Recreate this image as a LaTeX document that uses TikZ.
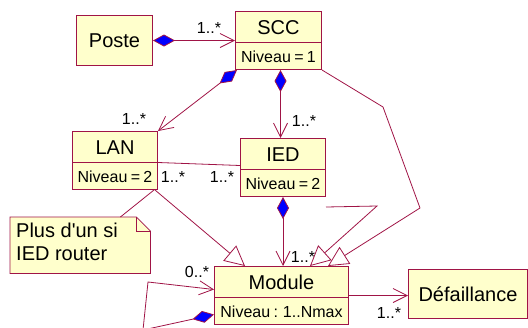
\documentclass[tikz,border=0pt]{standalone}
\usepackage{fontspec}
\setmainfont{Liberation Sans}
\usetikzlibrary{shapes.multipart,arrows.meta,calc}

\definecolor{rosered}{RGB}{160,20,70}
\definecolor{roseyellow}{RGB}{255,255,204}

\newcommand\namestrut{\rule[-8pt]{0pt}{30pt}}
\newcommand\attrstrut{\rule[-7pt]{0pt}{26pt}}
\newcommand\classtext[2]{\fontsize{20}{24}\selectfont\namestrut#1\nodepart{two}\fontsize{16}{19}\selectfont\attrstrut#2}

\begin{document}
\begin{tikzpicture}[
    x=1pt,y=-1pt,
    umlclass/.style={draw=rosered,fill=roseyellow,line width=1pt,rectangle split,
      rectangle split parts=2,inner xsep=0pt,inner ysep=0pt,align=center,anchor=north west},
    plainclass/.style={draw=rosered,fill=roseyellow,line width=1pt,inner sep=0pt,
      anchor=north west,font=\fontsize{20}{24}\selectfont},
    mult/.style={inner sep=0pt,font=\fontsize{16}{19}\selectfont},
    link/.style={draw=rosered,line width=0.8pt},
    nav/.style={link,-{Straight Barb[length=14pt,width=14pt]}},
    comp/.style={link,{Diamond[length=22pt,width=12pt,fill=blue]}-{Straight Barb[length=14pt,width=14pt]}},
    gen/.style={link,-{Triangle[open,length=20pt,width=20pt]}},
  ]
  \useasboundingbox (0,0) rectangle (528,327);

  % classes
  \node (poste) [plainclass,minimum width=76pt,minimum height=50pt] at (76,15) {Poste};
  \node (scc) [umlclass,text width=86pt] at (235,11) {\classtext{SCC}{Niveau = 1}};
  \node (lan) [umlclass,text width=85pt] at (72,131) {\classtext{LAN}{Niveau = 2}};
  \node (ied) [umlclass,text width=85pt] at (240,138) {\classtext{IED}{Niveau = 2}};
  \node (module) [umlclass,text width=134pt] at (214,266) {\classtext{Module}{Niveau : 1..Nmax}};
  \node (defaut) [plainclass,minimum width=119pt,minimum height=49pt] at (408,269) {Défaillance};

  % note
  \node (note) [anchor=north west,inner sep=0pt,minimum width=140pt,minimum height=56pt] at (10,217) {};
  \draw[link,fill=roseyellow] (note.north west) -- ([xshift=-14pt]note.north east)
    -- ([yshift=-14pt]note.north east) -- (note.south east) -- (note.south west) -- cycle;
  \draw[link] ([xshift=-14pt]note.north east) -- ([xshift=-14pt,yshift=-14pt]note.north east)
    -- ([yshift=-14pt]note.north east);
  \node (notetext) [anchor=north west,inner sep=0pt,align=left,font=\fontsize{20}{23}\selectfont]
    at (16,223) {Plus d\textquotesingle un si\\IED router};

  % bends
  \coordinate (sccbend1) at (383,107);
  \coordinate (sccbend2) at (420,208);
  \coordinate (iedbend) at (377,206);
  \coordinate (loopup) at (148,282);
  \coordinate (loopdown) at (143,330);

  % associations
  \draw[comp] (poste.east) -- (poste.east -| scc.west);
  \draw[comp] ([xshift=2pt]scc.south west) -- (lan.north east);
  \draw[comp] ([xshift=2pt]scc.south) -- ([xshift=2pt]scc.south |- ied.north);
  \draw[comp] (ied.south) -- (ied.south |- module.north);
  \draw[link] (lan.text split east) -- ([yshift=4pt]ied.text split west);
  \draw[nav] (module.east) -- (module.east -| defaut.west);
  \draw[comp] ([yshift=-19pt]module.west) -- (loopdown) -- (loopup) -- ([yshift=6pt]module.west);
  \draw[link] ([xshift=-4pt]lan.south east) -- ([xshift=-30pt]note.north east);

  % generalisations
  \draw[gen] ([xshift=-3pt]lan.south east) -- ([xshift=31pt]module.north west);
  \draw[gen] ([yshift=-10pt]ied.south east) -- (iedbend) -- ([xshift=96pt]module.north west);
  \draw[gen] (scc.south east) -- (sccbend1) -- (sccbend2) -- ([xshift=114pt]module.north west);

  % multiplicities
  \node (m1) [mult] at (209,28) {1..*};
  \node (m2) [mult] at (134,119) {1..*};
  \node (m3) [mult] at (304,121) {1..*};
  \node (m4) [mult] at (173,177) {1..*};
  \node (m5) [mult] at (222,177) {1..*};
  \node (m6) [mult] at (303,257) {1..*};
  \node (m7) [mult] at (197,272) {0..*};
  \node (m8) [mult] at (389,313) {1..*};
\end{tikzpicture}
\end{document}
